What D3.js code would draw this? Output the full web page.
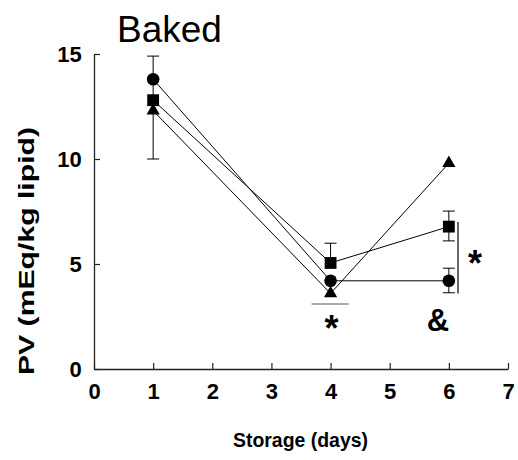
<!DOCTYPE html>
<html>
<head>
    <script src="https://d3js.org/d3.v7.min.js"></script>
    <style>
        body { margin: 0; background: #fff; }
        text { font-family: "Liberation Sans", Arial, sans-serif; }
    </style>
</head>
<body>
    <svg width="518" height="460"></svg>
    <script>
        // storage days and PV means per group
        var days = [1, 4, 6];
        var circleVals = [13.8, 4.2, 4.2];
        var squareVals = [12.8, 5.05, 6.78];
        var triangleVals = [12.3, 3.6, 9.8];
        // error bar ends (null = no bar drawn)
        var circleErrLo = [null, null, 3.63];
        var circleErrHi = [null, null, 4.8];
        var squareErrLo = [null, null, 6.1];
        var squareErrHi = [null, 5.99, 7.52];
        var triangleErrLo = [10.0, null, null];
        var triangleErrHi = [14.9, null, null];
        var xTicks = [0, 1, 2, 3, 4, 5, 6, 7];
        var yTicks = [0, 5, 10, 15];

        var svg = d3.select("svg");
        var x = d3.scaleLinear().domain([0, 7]).range([94, 508]);
        var y = d3.scaleLinear().domain([0, 15]).range([369, 54]);

        var series = [
            {name: "circle", vals: circleVals, lo: circleErrLo, hi: circleErrHi},
            {name: "square", vals: squareVals, lo: squareErrLo, hi: squareErrHi},
            {name: "triangle", vals: triangleVals, lo: triangleErrLo, hi: triangleErrHi}
        ];

        // axes
        var xAxis = d3.axisBottom(x).tickValues(xTicks).tickFormat(d3.format("d"))
            .tickSizeInner(-6).tickSizeOuter(0).tickPadding(14);
        var gx = svg.append("g").attr("transform", "translate(0," + y(0) + ")").call(xAxis);
        var yAxis = d3.axisLeft(y).tickValues(yTicks).tickFormat(d3.format("d"))
            .tickSizeInner(-6).tickSizeOuter(0).tickPadding(10);
        var gy = svg.append("g").attr("transform", "translate(" + x(0) + ",0)").call(yAxis);
        [gx, gy].forEach(function(g) {
            g.select(".domain").attr("stroke", "#222").attr("stroke-width", 1.3);
            g.selectAll(".tick line").attr("stroke", "#222").attr("stroke-width", 1.2);
            g.selectAll(".tick text").attr("font-size", 22).attr("font-weight", "bold")
                .attr("fill", "#000").style("font-family", "'Liberation Sans', Arial, sans-serif");
        });
        gy.selectAll(".tick text").attr("dx", "-0.1em");

        // error bars
        series.forEach(function(s) {
            days.forEach(function(d, i) {
                if (s.hi[i] == null && s.lo[i] == null) return;
                var top = s.hi[i] != null ? s.hi[i] : s.vals[i];
                var bot = s.lo[i] != null ? s.lo[i] : s.vals[i];
                var cx = x(d);
                svg.append("line").attr("x1", cx).attr("x2", cx).attr("y1", y(top)).attr("y2", y(bot))
                    .attr("stroke", "#000").attr("stroke-width", 1);
                [s.hi[i], s.lo[i]].forEach(function(v) {
                    if (v == null) return;
                    svg.append("line").attr("x1", cx - 6).attr("x2", cx + 6).attr("y1", y(v)).attr("y2", y(v))
                        .attr("stroke", "#000").attr("stroke-width", 1);
                });
            });
        });

        // lines
        var line = d3.line().x(function(d) { return x(d[0]); }).y(function(d) { return y(d[1]); });
        series.forEach(function(s) {
            svg.append("path")
                .attr("d", line(days.map(function(d, i) { return [d, s.vals[i]]; })))
                .attr("fill", "none").attr("stroke", "#000").attr("stroke-width", 1);
        });

        // markers
        var shapes = {
            circle: d3.symbol().type(d3.symbolCircle).size(125),
            square: d3.symbol().type(d3.symbolSquare).size(140),
            triangle: d3.symbol().type(d3.symbolTriangle).size(75)
        };
        series.forEach(function(s) {
            svg.selectAll(".m-" + s.name)
                .data(days.map(function(d, i) { return [d, s.vals[i]]; }))
                .enter().append("path")
                .attr("class", "m-" + s.name)
                .attr("d", shapes[s.name])
                .attr("transform", function(d) { return "translate(" + x(d[0]) + "," + y(d[1]) + ")"; })
                .attr("fill", "#000");
        });

        // significance marks
        svg.append("line").attr("x1", x(4) - 19).attr("x2", x(4) + 18).attr("y1", 304).attr("y2", 304)
            .attr("stroke", "#555").attr("stroke-width", 1.2);
        svg.append("text").attr("x", x(4) + 1).attr("y", 341).attr("text-anchor", "middle")
            .attr("font-size", 36).attr("font-weight", "bold").text("*");
        svg.append("line").attr("x1", 458).attr("x2", 458).attr("y1", y(7.0)).attr("y2", y(3.6))
            .attr("stroke", "#000").attr("stroke-width", 1.2);
        svg.append("text").attr("x", 475).attr("y", 276).attr("text-anchor", "middle")
            .attr("font-size", 36).attr("font-weight", "bold").text("*");
        svg.append("text").attr("x", 438).attr("y", 331).attr("text-anchor", "middle")
            .attr("font-size", 31).attr("font-weight", "bold").text("&");

        // titles
        svg.append("text").attr("x", 117).attr("y", 42).attr("font-size", 37).text("Baked");
        svg.append("text").attr("x", 233).attr("y", 447)
            .attr("font-size", 20).attr("font-weight", "bold")
            .attr("textLength", 135).attr("lengthAdjust", "spacingAndGlyphs")
            .text("Storage (days)");
        svg.append("text").attr("transform", "translate(34,375) rotate(-90)")
            .attr("font-size", 22).attr("font-weight", "bold")
            .attr("textLength", 248).attr("lengthAdjust", "spacingAndGlyphs")
            .text("PV (mEq/kg lipid)");
    </script>
</body>
</html>
